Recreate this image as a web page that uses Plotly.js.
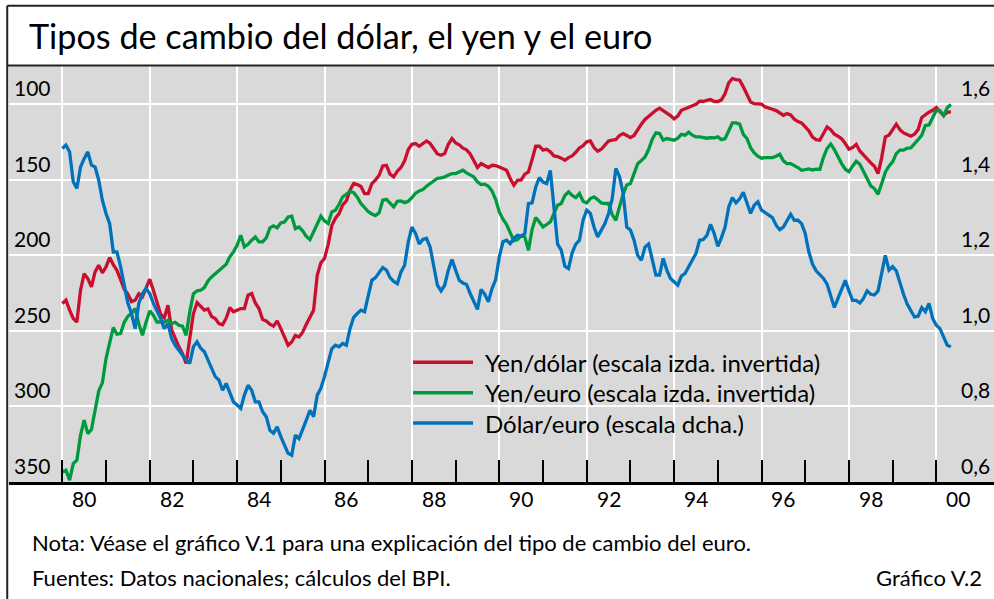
<!DOCTYPE html>
<html>
<head>
<meta charset="utf-8">
<script src="https://cdn.plot.ly/plotly-3.0.1.min.js"></script>
<style>
html, body { margin: 0; padding: 0; background: #ffffff; }
#chart { width: 994px; height: 599px; }
</style>
</head>
<body>
<div id="chart"></div>
<script>
// ---- Data (monthly, starting January 1980) ----
const START_YEAR = 1980;

// Yen per US dollar (left scale, inverted)
const yenDollar = [
  231.9,229.7,236.3,241.8,244.1,223.1,212.1,215.4,220.9,211.0,
  206.6,211.6,207.7,201.5,206.1,209.9,216.0,222.4,225.7,230.6,
  229.7,225.5,227.5,221.3,215.8,223.1,231.9,239.0,241.4,233.0,
  249.1,255.3,260.4,265.0,271.6,255.1,238.5,231.3,234.1,236.3,
  235.5,240.5,241.8,245.2,246.0,241.6,234.6,237.4,236.3,235.2,
  235.2,226.4,225.3,231.5,235.2,242.5,243.4,245.6,246.9,243.4,
  248.5,254.0,259.5,
  257.3,252.9,254.0,250.9,245.6,241.2,236.3,213.2,205.0,202.1,
  192.7,180.3,175.4,172.4,166.6,164.0,156.9,152.5,153.2,154.5,
  159.1,159.1,152.5,150.1,147.0,140.8,140.4,146.3,148.1,144.3,
  141.9,137.5,130.0,126.5,126.0,127.8,126.0,124.3,126.0,129.8,
  132.9,133.8,132.7,126.5,122.7,125.6,126.9,129.1,130.2,132.9,
  137.1,141.9,139.3,140.4,141.9,140.4,140.6,141.5,142.6,143.7,
  149.2,153.6,
  150.3,150.1,146.3,144.8,136.6,127.8,127.8,130.4,129.8,131.5,
  134.2,134.6,135.7,137.1,135.3,134.2,131.8,128.9,127.4,124.9,
  124.3,128.7,131.1,129.8,127.1,124.3,123.8,123.4,120.7,119.4,
  120.7,122.1,120.7,116.8,113.2,110.1,107.9,106.0,104.0,102.6,
  104.2,105.5,107.5,109.7,107.9,104.0,102.9,101.8,101.1,100.0,
  98.0,98.2,97.4,96.9,98.2,98.2,97.1,92.9,85.9,83.0,
  83.7,84.1,88.5,94.0,
  98.5,99.6,99.6,100.0,101.8,102.4,103.3,104.2,105.5,107.3,
  106.2,107.1,109.9,111.5,112.4,115.0,117.6,121.8,123.4,123.8,
  119.4,115.0,116.8,119.9,121.2,122.9,126.0,129.8,128.7,126.5,
  130.9,133.8,136.2,138.8,141.0,145.9,135.3,121.6,120.5,117.2,
  113.2,116.8,119.0,120.1,121.2,119.9,116.8,108.8,106.8,105.3,
  104.0,102.2,104.9,107.4,105.3,105.1
];

// Yen per euro (left scale, inverted)
const yenEuro = [
  343.3,342.2,348.8,337.8,335.6,319.1,309.1,318.0,315.3,302.1,
  289.7,284.4,268.3,258.0,247.8,252.2,251.8,244.3,240.3,238.3,
  235.2,245.2,252.9,244.3,236.8,239.6,244.1,244.1,244.1,243.0,
  245.2,244.3,246.3,246.9,252.9,237.4,225.3,223.5,223.1,221.3,
  216.9,214.3,212.1,209.9,208.1,205.9,201.0,197.7,193.3,186.7,
  194.4,192.7,190.0,187.8,191.1,191.1,188.5,181.8,180.5,181.8,
  178.5,177.9,174.6,
  174.1,182.3,181.2,183.8,187.4,189.6,184.5,179.0,174.1,177.2,
  179.0,171.3,170.2,166.2,161.3,159.6,157.6,158.5,161.5,165.7,
  168.6,171.0,172.6,173.7,171.9,163.5,162.9,165.7,167.9,164.2,
  164.0,165.1,164.2,161.8,158.9,157.4,156.5,154.3,152.5,150.3,
  149.0,148.8,148.1,146.8,145.9,145.9,144.8,143.7,145.4,147.0,
  148.1,151.4,153.2,152.9,154.3,157.4,163.1,171.3,176.1,179.6,
  185.6,190.4,
  189.6,187.1,187.8,196.6,182.9,175.0,177.9,181.2,179.6,177.9,
  172.4,166.8,165.7,160.4,158.0,160.4,161.8,159.1,164.2,165.3,
  162.4,161.3,163.1,165.3,165.7,165.7,173.0,176.8,167.9,159.6,
  153.4,152.5,145.9,139.3,137.3,134.9,130.0,123.2,119.0,119.4,
  123.8,122.7,123.2,123.8,122.5,119.9,120.5,118.5,120.5,121.6,
  121.6,122.1,122.5,122.1,122.3,121.6,123.4,122.7,117.2,112.4,
  112.4,113.2,119.9,122.7,
  128.7,132.2,134.4,135.7,135.3,135.1,135.3,134.4,133.1,137.5,
  139.3,139.3,140.4,141.9,143.7,143.2,142.8,143.5,143.0,143.2,
  135.3,129.3,126.3,130.0,134.9,139.3,143.0,144.6,141.0,137.7,
  139.7,144.8,149.9,154.0,155.8,159.6,152.5,145.0,141.0,138.2,
  132.7,130.4,130.4,129.1,128.9,126.5,123.4,120.5,114.1,113.7,
  108.4,104.0,104.4,107.5,102.4,100.2
];

// US dollars per euro (right scale)
const dollarEuro = [
  1.483,1.492,1.474,1.395,1.377,1.434,1.456,1.474,1.439,1.434,
  1.399,1.346,1.311,1.284,1.209,1.209,1.170,1.117,1.073,1.046,
  1.006,1.073,1.099,1.112,1.099,1.073,1.055,1.033,1.006,1.020,
  0.980,0.962,0.949,0.936,0.923,0.914,0.958,0.971,0.954,0.945,
  0.923,0.905,0.879,0.870,0.843,0.861,0.834,0.812,0.804,0.795,
  0.830,0.856,0.843,0.812,0.812,0.786,0.773,0.737,0.729,0.746,
  0.720,0.698,0.676,
  0.671,0.724,0.715,0.737,0.764,0.790,0.773,0.830,0.848,0.879,
  0.914,0.953,0.962,0.958,0.967,0.962,1.006,1.036,1.046,1.055,
  1.051,1.090,1.134,1.141,1.154,1.168,1.161,1.141,1.131,1.125,
  1.156,1.174,1.236,1.275,1.258,1.230,1.242,1.245,1.222,1.170,
  1.121,1.106,1.121,1.161,1.189,1.161,1.134,1.127,1.123,1.099,
  1.077,1.057,1.110,1.097,1.077,1.112,1.136,1.196,1.236,1.240,
  1.231,1.245,
  1.253,1.251,1.258,1.337,1.339,1.381,1.406,1.394,1.390,1.425,
  1.328,1.230,1.214,1.171,1.165,1.207,1.230,1.240,1.293,1.320,
  1.311,1.275,1.249,1.265,1.284,1.311,1.350,1.430,1.409,1.364,
  1.275,1.267,1.240,1.200,1.187,1.222,1.230,1.189,1.148,1.148,
  1.192,1.161,1.139,1.130,1.121,1.145,1.152,1.170,1.187,1.205,
  1.240,1.242,1.253,1.282,1.258,1.224,1.247,1.275,1.328,1.353,
  1.339,1.350,1.367,1.337,
  1.311,1.333,1.342,1.320,1.313,1.308,1.300,1.280,1.268,1.275,
  1.293,1.309,1.293,1.293,1.284,1.258,1.209,1.177,1.159,1.150,
  1.139,1.124,1.095,1.062,1.086,1.112,1.134,1.106,1.081,1.081,
  1.074,1.086,1.106,1.097,1.095,1.106,1.159,1.200,1.161,1.170,
  1.159,1.127,1.097,1.071,1.055,1.037,1.039,1.062,1.051,1.073,
  1.033,1.015,1.006,0.984,0.962,0.958
];

// Axis ticks and labels
const labelYears = [1980,1982,1984,1986,1988,1990,1992,1994,1996,1998,2000];
const yearLabels = ['80','82','84','86','88','90','92','94','96','98','00'];
const leftTicks = [100,150,200,250,300,350];
const rightTicks = [0.6,0.8,1.0,1.2,1.4,1.6];
const rightLabels = ['0,6','0,8','1,0','1,2','1,4','1,6'];

// Texts
const TITLE = 'Tipos de cambio del dólar, el yen y el euro';
const seriesNames = ['Yen/dólar (escala izda. invertida)', 'Yen/euro (escala izda. invertida)', 'Dólar/euro (escala dcha.)'];
const seriesColors = ['#c8102e', '#009a3e', '#0072bc'];
const NOTE = 'Nota: Véase el gráfico V.1 para una explicación del tipo de cambio del euro.';
const SOURCES = 'Fuentes: Datos nacionales; cálculos del BPI.';
const CHART_ID = 'Gráfico V.2';

// ---- Build chart ----
const months = yenDollar.map((_, i) => START_YEAR + i / 12);
const oddYears = labelYears.slice(0, -1).map(y => y + 1);
const FONT = 'Lato, "Gill Sans", "Open Sans", sans-serif';
const LW = 3.3;

const traces = [
  {x: months, y: yenDollar, name: seriesNames[0], type: 'scatter', mode: 'lines', xaxis: 'x', yaxis: 'y', line: {color: seriesColors[0], width: LW}},
  {x: months, y: yenEuro, name: seriesNames[1], type: 'scatter', mode: 'lines', xaxis: 'x', yaxis: 'y', line: {color: seriesColors[1], width: LW}},
  {x: months, y: dollarEuro, name: seriesNames[2], type: 'scatter', mode: 'lines', xaxis: 'x', yaxis: 'y2', line: {color: seriesColors[2], width: LW}}
];

const XR = [1978.78, 2001.32];
const annotations = [];
leftTicks.forEach(v => annotations.push({
  xref: 'paper', yref: 'y', x: 0, y: v, xanchor: 'left', yanchor: 'middle',
  xshift: 3, yshift: 16.5, text: String(v), showarrow: false,
  font: {family: FONT, size: 21, color: '#000'}
}));
rightTicks.forEach((v, i) => annotations.push({
  xref: 'paper', yref: 'y2', x: 1, y: v, xanchor: 'right', yanchor: 'middle',
  xshift: -2, yshift: 16.5, text: rightLabels[i], showarrow: false,
  font: {family: FONT, size: 21, color: '#000'}
}));
// Year labels centred in their year
labelYears.forEach((y, i) => annotations.push({
  xref: 'x', yref: 'paper', x: y + 0.5, y: 0, xanchor: 'center', yanchor: 'middle',
  yshift: -16, text: yearLabels[i], showarrow: false,
  font: {family: FONT, size: 21, color: '#000'}
}));

// Legend (drawn manually to match the long line samples)
const legendY = [0.2877, 0.2147, 0.1418];
const shapes = [];
seriesNames.forEach((n, i) => {
  shapes.push({type: 'line', xref: 'paper', yref: 'paper', x0: 0.4102, x1: 0.4711, y0: legendY[i], y1: legendY[i],
    line: {color: seriesColors[i], width: 3.6}});
  annotations.push({xref: 'paper', yref: 'paper', x: 0.4812, y: legendY[i], xanchor: 'left', yanchor: 'middle',
    text: n, showarrow: false, font: {family: FONT, size: 24, color: '#000'}});
});

// Frame lines
shapes.push({type: 'line', xref: 'paper', yref: 'paper', x0: -0.0018, x1: 1.0, y0: 1.1450, y1: 1.1450, line: {color: '#222', width: 2}});
shapes.push({type: 'line', xref: 'paper', yref: 'paper', x0: -0.0018, x1: 1.0, y0: 1.0010, y1: 1.0010, line: {color: '#222', width: 2}});
shapes.push({type: 'line', xref: 'paper', yref: 'paper', x0: -0.0018, x1: -0.0018, y0: 1.1450, y1: -0.2813, line: {color: '#222', width: 2}});

// Footer
annotations.push({xref: 'paper', yref: 'paper', x: 0.0213, y: -0.1466, xanchor: 'left', yanchor: 'middle', text: NOTE, showarrow: false, font: {family: FONT, size: 22, color: '#000'}});
annotations.push({xref: 'paper', yref: 'paper', x: 0.0213, y: -0.2284, xanchor: 'left', yanchor: 'middle', text: SOURCES, showarrow: false, font: {family: FONT, size: 22, color: '#000'}});
annotations.push({xref: 'paper', yref: 'paper', x: 0.9898, y: -0.2284, xanchor: 'right', yanchor: 'middle', text: CHART_ID, showarrow: false, font: {family: FONT, size: 22, color: '#000'}});

const layout = {
  width: 994, height: 599,
  margin: {l: 9, r: 0, t: 66, b: 117, pad: 0},
  paper_bgcolor: '#ffffff',
  plot_bgcolor: '#d9d9d9',
  showlegend: false,
  hovermode: false,
  font: {family: FONT, color: '#000', size: 20},
  title: {text: TITLE, font: {family: FONT, size: 34.2, color: '#000'},
    xref: 'container', x: 29 / 994, xanchor: 'left', yref: 'container', y: 1 - 37 / 599, yanchor: 'middle'},
  xaxis: {range: XR, tickmode: 'array', tickvals: labelYears, ticks: 'inside', ticklen: 22, tickwidth: 2, tickcolor: '#000',
    showticklabels: false, showgrid: true, gridcolor: '#ffffff', gridwidth: 2,
    showline: true, linecolor: '#000', linewidth: 2.5, zeroline: false,
    minor: {tickmode: 'array', tickvals: oddYears, ticks: 'inside', ticklen: 22, tickwidth: 2, tickcolor: '#000', showgrid: false}},
  yaxis: {range: [350, 74.7], tickmode: 'array', tickvals: leftTicks.slice(0, 5), showticklabels: false, ticks: '',
    showgrid: true, gridcolor: '#ffffff', gridwidth: 2, zeroline: false, showline: false},
  yaxis2: {range: [0.6, 1.7014], overlaying: 'y', side: 'right', showgrid: false, showticklabels: false, ticks: '',
    zeroline: false, showline: false},
  shapes: shapes,
  annotations: annotations
};

Plotly.newPlot('chart', traces, layout, {staticPlot: true, displayModeBar: false});
</script>
</body>
</html>
